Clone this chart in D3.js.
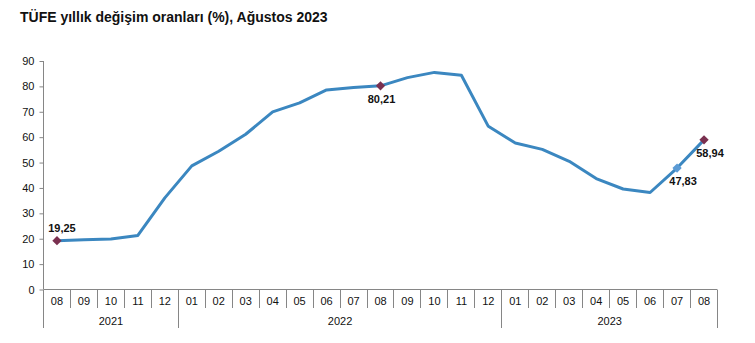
<!DOCTYPE html>
<html><head><meta charset="utf-8">
<script src="https://cdn.jsdelivr.net/npm/d3@7"></script>
<style>body{margin:0;background:#fff}svg{display:block}text{font-family:"Liberation Sans",Arial,sans-serif}</style>
</head><body><svg id="c" width="755" height="343"></svg>
<script>
const title = "TÜFE yıllık değişim oranları (%), Ağustos 2023";
const months = ["08","09","10","11","12","01","02","03","04","05","06","07","08","09","10","11","12","01","02","03","04","05","06","07","08"];
const years = ["2021","2022","2023"];
const yearStart = [0,5,17];
const yearEnd = [5,17,25];
const values = [19.25,19.58,19.89,21.31,36.08,48.69,54.44,61.14,69.97,73.50,78.62,79.60,80.21,83.45,85.51,84.39,64.27,57.68,55.18,50.51,43.68,39.59,38.21,47.83,58.94];
const yTicks = [0,10,20,30,40,50,60,70,80,90];
const labeled = [
  {i:0, text:"19,25", pos:"above", color:"#7a3050"},
  {i:12, text:"80,21", pos:"below", color:"#7a3050"},
  {i:23, text:"47,83", pos:"below", color:"#5b9bd5"},
  {i:24, text:"58,94", pos:"below", color:"#7a3050"}
];

const svg = d3.select("#c");
const L = 43.5, R = 717.5, T = 61, B = 289.5;
const x = d3.scaleBand().domain(d3.range(months.length)).range([L, R]);
const y = d3.scaleLinear().domain([0, 90]).range([B, T]);

svg.append("text").attr("x", 20).attr("y", 22).attr("font-size", 14).attr("font-weight", "bold").attr("fill", "#111").text(title);

// y axis
const ya = svg.append("g").attr("transform", `translate(${L},0)`)
  .call(d3.axisLeft(y).tickValues(yTicks).tickSize(4).tickPadding(5).tickFormat(d3.format("d")));
ya.select(".domain").attr("stroke", "#868686").attr("d", `M-0,${T}V${B}`);
ya.selectAll(".tick line").attr("stroke", "#868686");
ya.selectAll("text").attr("font-size", 11).attr("fill", "#111").attr("font-family", '"Liberation Sans",Arial,sans-serif');

// x axis baseline and separators
const g = svg.append("g");
g.append("line").attr("x1", L).attr("x2", R).attr("y1", B).attr("y2", B).attr("stroke", "#868686");
const boundaries = d3.range(months.length + 1);
g.selectAll("line.sep").data(boundaries).join("line")
  .attr("x1", d => L + d * x.step()).attr("x2", d => L + d * x.step())
  .attr("y1", B).attr("y2", d => (yearStart.includes(d) || d === months.length) ? 328 : 308)
  .attr("stroke", "#868686").attr("shape-rendering", "crispEdges");
g.selectAll("text.m").data(months).join("text")
  .attr("x", (d, i) => x(i) + x.bandwidth() / 2).attr("y", 305)
  .attr("text-anchor", "middle").attr("font-size", 11).attr("fill", "#111").text(d => d);
g.selectAll("text.y").data(years).join("text")
  .attr("x", (d, i) => (L + yearStart[i] * x.step() + L + yearEnd[i] * x.step()) / 2).attr("y", 325)
  .attr("text-anchor", "middle").attr("font-size", 11).attr("fill", "#111").text(d => d);

// line
const line = d3.line().x((d, i) => x(i) + x.bandwidth() / 2).y(d => y(d));
svg.append("path").datum(values).attr("d", line).attr("fill", "none")
  .attr("stroke", "#3b87c0").attr("stroke-width", 3).attr("stroke-linejoin", "round");

// markers & labels
const sym = d3.symbol().type(d3.symbolDiamond2).size(55);
labeled.forEach(l => {
  const cx = x(l.i) + x.bandwidth() / 2, cy = y(values[l.i]);
  svg.append("path").attr("d", sym).attr("transform", `translate(${cx},${cy})`).attr("fill", l.color);
  svg.append("text").attr("x", l.pos === "above" ? cx + 5 : cx + (l.i >= 23 ? 6 : 1))
    .attr("y", l.pos === "above" ? cy - 9 : cy + 17)
    .attr("text-anchor", "middle").attr("font-size", 11).attr("font-weight", "bold").attr("fill", "#111").text(l.text);
});
</script></body></html>
